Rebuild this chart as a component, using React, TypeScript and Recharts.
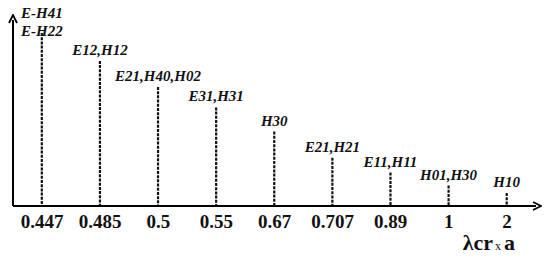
import React from 'react';
import { BarChart, Bar, XAxis, YAxis } from 'recharts';

const cutoffRatios = ['0.447', '0.485', '0.5', '0.55', '0.67', '0.707', '0.89', '1', '2'];
const modeLabels = [
  ['E-H41', 'E-H22'],
  ['E12,H12'],
  ['E21,H40,H02'],
  ['E31,H31'],
  ['H30'],
  ['E21,H21'],
  ['E11,H11'],
  ['H01,H30'],
  ['H10'],
];
const lineHeights = [93, 78, 64, 53, 40, 26, 18, 11, 7];

const data = cutoffRatios.map((r, i) => ({ ratio: r, modes: modeLabels[i], h: lineHeights[i] }));

const SERIF = '"Liberation Serif", "Times New Roman", serif';

const StemShape = (props: any) => {
  const { x, y, width, height, payload } = props;
  const cx = x + width / 2;
  const modes: string[] = (payload && payload.modes) || [];
  const n = modes.length;
  const lastBase = y - 6 + (n - 1) * 9;
  return (
    <g>
      <line x1={cx} y1={y} x2={cx} y2={y + height} stroke="#111" strokeWidth={2.2} strokeDasharray="3 1.2" />
      {modes.map((m, k) => (
        <text
          key={k}
          x={cx}
          y={lastBase - (n - 1 - k) * 18}
          textAnchor="middle"
          fontFamily={SERIF}
          fontStyle="italic"
          fontWeight="bold"
          fontSize={15}
          fill="#111"
        >
          {m}
        </text>
      ))}
    </g>
  );
};

const RatioTick = (props: any) => {
  const { x, payload } = props;
  return (
    <text x={x} y={228} textAnchor="middle" fontFamily={SERIF} fontWeight="bold" fontSize={19} fill="#111">
      {payload.value}
    </text>
  );
};

const AxisTitle = (props: any) => {
  const vb = props.viewBox || {};
  return (
    <text x={vb.x + vb.width - 21} y={vb.y + 44} textAnchor="end" fontFamily={SERIF} fontWeight="bold" fill="#111">
      <tspan fontSize={22}>λcr</tspan>
      <tspan fontSize={12} fontWeight="normal" dx={2}>x</tspan>
      <tspan fontSize={22} dx={3}>a</tspan>
    </text>
  );
};

export default function App() {
  return (
    <div style={{ position: 'absolute', left: 0, top: 0, background: '#fff' }}>
      <BarChart width={550} height={265} data={data} margin={{ top: 20, right: 14, left: 12, bottom: 0 }}>
        <defs>
          <marker
            id="axisArrow"
            viewBox="0 0 10 10"
            refX={4}
            refY={5}
            markerWidth={10}
            markerHeight={10}
            markerUnits="userSpaceOnUse"
            orient="auto-start-reverse"
          >
            <path d="M1,1 L9,5 L1,9" fill="none" stroke="#000" strokeWidth={1.8} />
          </marker>
        </defs>
        <XAxis
          dataKey="ratio"
          height={59}
          tickLine={false}
          tick={<RatioTick />}
          interval={0}
          axisLine={{ stroke: '#000', strokeWidth: 2, markerEnd: 'url(#axisArrow)' }}
          label={<AxisTitle />}
        />
        <YAxis
          width={1}
          domain={[0, 100]}
          tick={false}
          tickLine={false}
          axisLine={{ stroke: '#000', strokeWidth: 2, markerStart: 'url(#axisArrow)' }}
        />
        <Bar dataKey="h" shape={<StemShape />} isAnimationActive={false} />
      </BarChart>
    </div>
  );
}
